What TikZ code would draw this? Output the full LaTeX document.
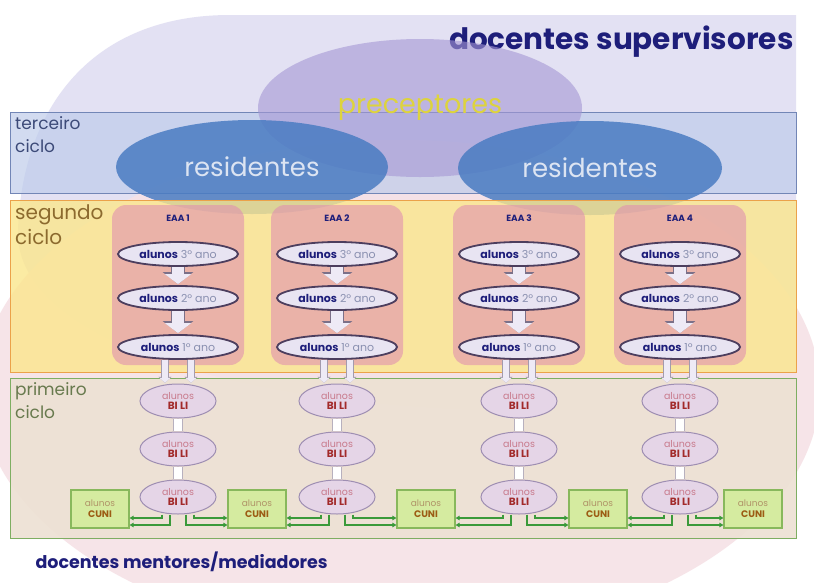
\documentclass[tikz,border=0pt]{standalone}
\usepackage{fontspec}
\setmainfont{Poppins}
\usepackage{tikz}
\usetikzlibrary{positioning,shapes.geometric,arrows.meta}
\definecolor{supfill}{HTML}{E3E1F3}
\definecolor{mentfill}{HTML}{F6E2E6}
\definecolor{navy}{HTML}{1E1E7A}
\definecolor{terfill}{HTML}{BFCDEB}
\definecolor{terline}{HTML}{7286B6}
\definecolor{terlabel}{HTML}{3C4A78}
\definecolor{precfill}{HTML}{A597D4}
\definecolor{prectext}{HTML}{DDD33E}
\definecolor{resfill}{HTML}{4A7CC2}
\definecolor{restext}{HTML}{DCE4F2}
\definecolor{segfill}{HTML}{FBE68C}
\definecolor{segline}{HTML}{EBA24A}
\definecolor{seglabel}{HTML}{8C6A2E}
\definecolor{eaafill}{HTML}{E090B0}
\definecolor{ovalfill}{HTML}{E8E4F2}
\definecolor{ovalline}{HTML}{4C3E5E}
\definecolor{anotext}{HTML}{8A90B0}
\definecolor{arrowfill}{HTML}{EEEAF6}
\definecolor{arrowline}{HTML}{7C7088}
\definecolor{prifill}{HTML}{EDE1D3}
\definecolor{priline}{HTML}{7EAE62}
\definecolor{prilabel}{HTML}{687A4E}
\definecolor{bilifill}{HTML}{E5D5E7}
\definecolor{bililine}{HTML}{9E8EB2}
\definecolor{bilitext}{HTML}{C87A8C}
\definecolor{bilibold}{HTML}{A22A2A}
\definecolor{cunifill}{HTML}{D5EBA0}
\definecolor{cuniline}{HTML}{88B85C}
\definecolor{cunitext}{HTML}{B09468}
\definecolor{cunibold}{HTML}{9C5C14}
\definecolor{linkgreen}{HTML}{3A9A3A}
\newcommand{\anotxt}[1]{\textbf{alunos} {\color{anotext}#1 ano}}
\newcommand{\bilitxt}{{\color{bilitext}alunos}\\{\color{bilibold}\bfseries\fontsize{10.5}{11}\selectfont BI LI}}
\newcommand{\cunitxt}{{\color{cunitext}alunos}\\{\color{cunibold}\bfseries\fontsize{9.5}{11}\selectfont CUNI}}
\tikzset{
	ciclobox/.style={rectangle, anchor=north west, line width=1.2pt, minimum width=786pt},
	ciclolabel/.style={anchor=north west, align=left, inner sep=0pt, font=\fontsize{17}{23}\selectfont},
	precnode/.style={ellipse, fill=precfill, fill opacity=0.6, text opacity=1, text=prectext, minimum width=324pt, minimum height=138pt, font=\fontsize{27}{30}\selectfont},
	resnode/.style={ellipse, fill=resfill, fill opacity=0.85, text opacity=1, text=restext, minimum width=272pt, minimum height=94pt, font=\fontsize{26}{30}\selectfont},
	eaanode/.style={rectangle, rounded corners=14pt, fill=eaafill, fill opacity=0.6, minimum width=132pt, minimum height=160pt},
	eaalabel/.style={text=navy, font=\bfseries\fontsize{9}{10}\selectfont},
	ovalnode/.style={ellipse, draw=ovalline, fill=ovalfill, line width=1.8pt, minimum width=120pt, minimum height=24pt, inner sep=0pt, text=navy, font=\fontsize{11}{12}\selectfont},
	bilinode/.style={ellipse, draw=bililine, fill=bilifill, line width=1pt, minimum width=76pt, minimum height=34pt, inner sep=0pt, align=center, font=\fontsize{9.5}{10.5}\selectfont},
	cuninode/.style={rectangle, draw=cuniline, fill=cunifill, line width=1.2pt, minimum width=58pt, minimum height=38pt, inner sep=0pt, align=center, font=\fontsize{9}{11}\selectfont},
	blockarrow/.style={draw=arrowfill, line width=12pt, -{Triangle[length=10pt,width=26pt]}, shorten >=1pt, preaction={draw=arrowline, line width=14.5pt, -{Triangle[length=12pt,width=30pt]}}},
	twinarrow/.style={draw=arrowfill, line width=6pt, -{Triangle[length=5pt,width=11pt]}, shorten >=0.7pt, preaction={draw=arrowline!70, line width=7.5pt, -{Triangle[length=6pt,width=13pt]}}},
	smalllink/.style={draw=white, line width=8pt, shorten <=0.8pt, shorten >=0.8pt, preaction={draw=arrowline!55, line width=10pt}},
	cunilink/.style={draw=linkgreen, line width=1.4pt, -{Triangle[length=4pt,width=4.5pt]}}
}
\begin{document}
\begin{tikzpicture}[x=1pt, y=-1pt]
	\useasboundingbox (0,0) rectangle (814,582);
	\clip (0,0) rectangle (814,582);
	\fill[white] (0,0) rectangle (814,582);
	% background regions
	\fill[supfill] (796,15) -- (230,15) .. controls (90,15) and (22,110) .. (18,230) .. controls (14,330) and (200,400) .. (480,410) -- (796,410) -- cycle;
	\fill[mentfill, opacity=0.9] (400,390) ellipse [x radius=420, y radius=250];
	\node[anchor=east, text=navy, font=\bfseries\fontsize{29.5}{33}\selectfont] at (797,42) (sup) {docentes supervisores};
	\node[anchor=west, text=navy, font=\bfseries\fontsize{17.5}{20}\selectfont] at (32,562) (men) {docentes mentores/mediadores};
	
	% terceiro ciclo
	\node[ciclobox, draw=terline, fill=terfill, fill opacity=0.7, minimum height=81pt] at (10,112) (ter) {};
	\node[ciclolabel, text=terlabel] at (15,116) (terlab) {terceiro\\ciclo};
	\node[precnode] at (420,108) (prec) {preceptores};
	\node[resnode] at (252,167) (res1) {residentes};
	\node[resnode, minimum width=264pt] at (590,168) (res2) {residentes};
	
	% segundo ciclo
	\node[ciclobox, draw=segline, fill=segfill, fill opacity=0.8, minimum height=172pt] at (10,200) (seg) {};
	\node[ciclolabel, text=seglabel, font=\fontsize{20}{25}\selectfont] at (15,204) (seglab) {segundo\\ciclo};
	\node[eaanode] at (178,285) (E1) {};
	\node[eaanode] at (337,285) (E2) {};
	\node[eaanode] at (519,285) (E3) {};
	\node[eaanode] at (680,285) (E4) {};
	\node[eaalabel] at (178,218) (L1) {EAA 1};
	\node[eaalabel] at (337,218) (L2) {EAA 2};
	\node[eaalabel] at (519,218) (L3) {EAA 3};
	\node[eaalabel] at (680,218) (L4) {EAA 4};
	\node[ovalnode] at (178,254) (A13) {\anotxt{3º}};
	\node[ovalnode] at (178,298) (A12) {\anotxt{2º}};
	\node[ovalnode] at (178,347) (A11) {\anotxt{1º}};
	\node[ovalnode] at (337,254) (A23) {\anotxt{3º}};
	\node[ovalnode] at (337,298) (A22) {\anotxt{2º}};
	\node[ovalnode] at (337,347) (A21) {\anotxt{1º}};
	\node[ovalnode] at (519,254) (A33) {\anotxt{3º}};
	\node[ovalnode] at (519,298) (A32) {\anotxt{2º}};
	\node[ovalnode] at (519,347) (A31) {\anotxt{1º}};
	\node[ovalnode] at (680,254) (A43) {\anotxt{3º}};
	\node[ovalnode] at (680,298) (A42) {\anotxt{2º}};
	\node[ovalnode] at (680,347) (A41) {\anotxt{1º}};
	
	% primeiro ciclo
	\node[ciclobox, draw=priline, fill=prifill, fill opacity=0.9, minimum height=160pt] at (10,378) (pri) {};
	\node[ciclolabel, text=prilabel] at (15,382) (prilab) {primeiro\\ciclo};
	\node[bilinode] at (178,401) (B1a) {\bilitxt};
	\node[bilinode] at (178,449) (B1b) {\bilitxt};
	\node[bilinode] at (178,497) (B1c) {\bilitxt};
	\node[bilinode] at (337,401) (B2a) {\bilitxt};
	\node[bilinode] at (337,449) (B2b) {\bilitxt};
	\node[bilinode] at (337,497) (B2c) {\bilitxt};
	\node[bilinode] at (519,401) (B3a) {\bilitxt};
	\node[bilinode] at (519,449) (B3b) {\bilitxt};
	\node[bilinode] at (519,497) (B3c) {\bilitxt};
	\node[bilinode] at (680,401) (B4a) {\bilitxt};
	\node[bilinode] at (680,449) (B4b) {\bilitxt};
	\node[bilinode] at (680,497) (B4c) {\bilitxt};
	\node[cuninode] at (100,509) (C1) {\cunitxt};
	\node[cuninode] at (257,509) (C2) {\cunitxt};
	\node[cuninode] at (426,509) (C3) {\cunitxt};
	\node[cuninode] at (598,509) (C4) {\cunitxt};
	\node[cuninode] at (753,509) (C5) {\cunitxt};
	
	% arrows between years
	\draw[blockarrow] (A13.south) -- (A12.north);
	\draw[blockarrow] (A12.south) -- (A11.north);
	\draw[blockarrow] (A23.south) -- (A22.north);
	\draw[blockarrow] (A22.south) -- (A21.north);
	\draw[blockarrow] (A33.south) -- (A32.north);
	\draw[blockarrow] (A32.south) -- (A31.north);
	\draw[blockarrow] (A43.south) -- (A42.north);
	\draw[blockarrow] (A42.south) -- (A41.north);
	
	% into primeiro ciclo
	\draw[twinarrow] ([xshift=-13pt]A11.south) -- ([xshift=-13pt]B1a.north);
	\draw[twinarrow] ([xshift=13pt]A11.south) -- ([xshift=13pt]B1a.north);
	\draw[twinarrow] ([xshift=-13pt]A21.south) -- ([xshift=-13pt]B2a.north);
	\draw[twinarrow] ([xshift=13pt]A21.south) -- ([xshift=13pt]B2a.north);
	\draw[twinarrow] ([xshift=-13pt]A31.south) -- ([xshift=-13pt]B3a.north);
	\draw[twinarrow] ([xshift=13pt]A31.south) -- ([xshift=13pt]B3a.north);
	\draw[twinarrow] ([xshift=-13pt]A41.south) -- ([xshift=-13pt]B4a.north);
	\draw[twinarrow] ([xshift=13pt]A41.south) -- ([xshift=13pt]B4a.north);
	\draw[smalllink] (B1a.south) -- (B1b.north);
	\draw[smalllink] (B1b.south) -- (B1c.north);
	\draw[smalllink] (B2a.south) -- (B2b.north);
	\draw[smalllink] (B2b.south) -- (B2c.north);
	\draw[smalllink] (B3a.south) -- (B3b.north);
	\draw[smalllink] (B3b.south) -- (B3c.north);
	\draw[smalllink] (B4a.south) -- (B4b.north);
	\draw[smalllink] (B4b.south) -- (B4c.north);
	
	% links to CUNI
	\draw[cunilink] ([xshift=-16pt]B1c.south) |- ([yshift=-9pt]C1.east);
	\draw[cunilink] ([xshift=-8pt]B1c.south) |- ([yshift=-16pt]C1.east);
	\draw[cunilink] ([xshift=16pt]B1c.south) |- ([yshift=-9pt]C2.west);
	\draw[cunilink] ([xshift=8pt]B1c.south) |- ([yshift=-16pt]C2.west);
	\draw[cunilink] ([xshift=-16pt]B2c.south) |- ([yshift=-9pt]C2.east);
	\draw[cunilink] ([xshift=-8pt]B2c.south) |- ([yshift=-16pt]C2.east);
	\draw[cunilink] ([xshift=16pt]B2c.south) |- ([yshift=-9pt]C3.west);
	\draw[cunilink] ([xshift=8pt]B2c.south) |- ([yshift=-16pt]C3.west);
	\draw[cunilink] ([xshift=-16pt]B3c.south) |- ([yshift=-9pt]C3.east);
	\draw[cunilink] ([xshift=-8pt]B3c.south) |- ([yshift=-16pt]C3.east);
	\draw[cunilink] ([xshift=16pt]B3c.south) |- ([yshift=-9pt]C4.west);
	\draw[cunilink] ([xshift=8pt]B3c.south) |- ([yshift=-16pt]C4.west);
	\draw[cunilink] ([xshift=-16pt]B4c.south) |- ([yshift=-9pt]C4.east);
	\draw[cunilink] ([xshift=-8pt]B4c.south) |- ([yshift=-16pt]C4.east);
	\draw[cunilink] ([xshift=16pt]B4c.south) |- ([yshift=-9pt]C5.west);
	\draw[cunilink] ([xshift=8pt]B4c.south) |- ([yshift=-16pt]C5.west);
\end{tikzpicture}
\end{document}
